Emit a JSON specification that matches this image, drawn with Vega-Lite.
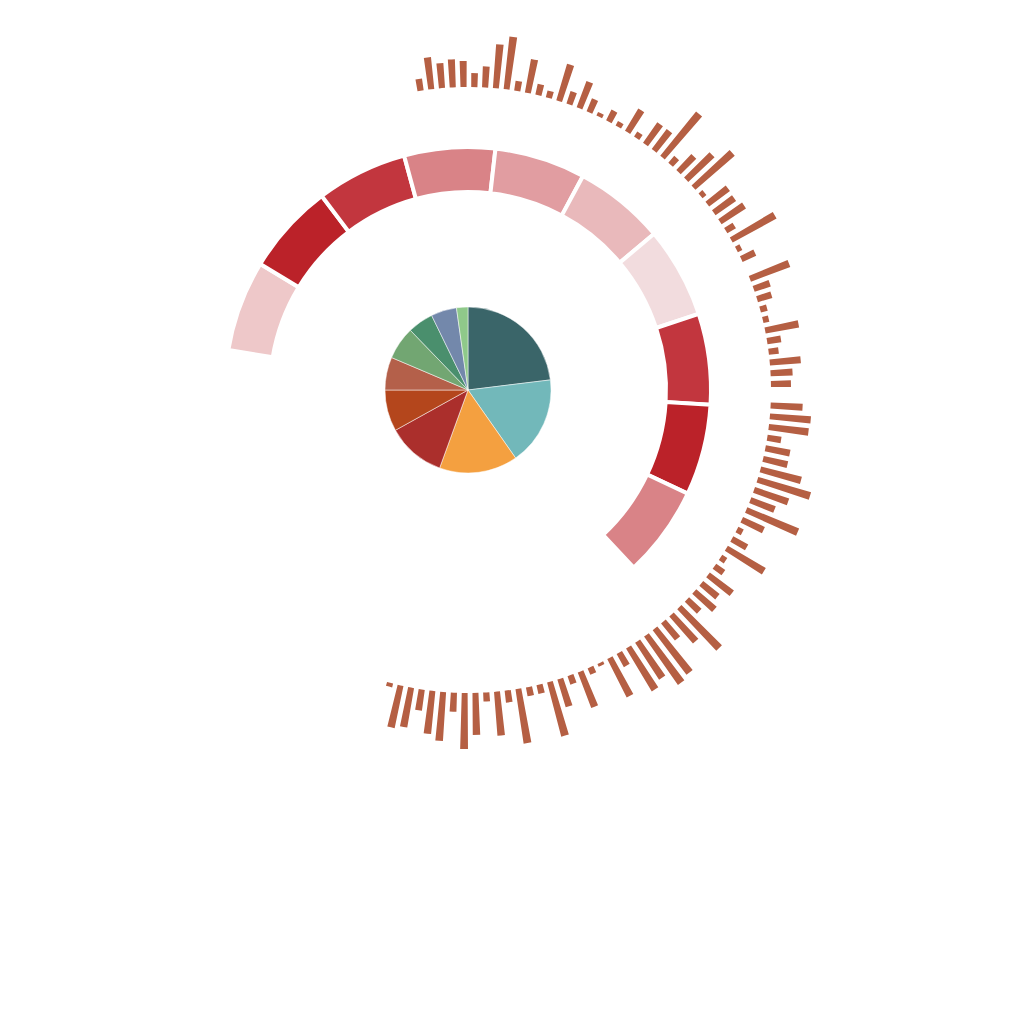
{
  "$schema": "https://vega.github.io/schema/vega-lite/v6.json",
  "width": 936,
  "height": 780,
  "autosize": {"type": "none"},
  "padding": 0,
  "background": "#ffffff",
  "view": {"stroke": null},
  "datasets": {
    "bars": [
      {"i":1,"v":12},{"i":2,"v":32},{"i":3,"v":25},{"i":4,"v":28},{"i":5,"v":26},{"i":6,"v":14},{"i":7,"v":21},{"i":8,"v":44},{"i":9,"v":53},{"i":10,"v":10},
      {"i":11,"v":34},{"i":12,"v":11},{"i":13,"v":7},{"i":14,"v":38},{"i":15,"v":13},{"i":16,"v":28},{"i":17,"v":14},{"i":18,"v":4},{"i":19,"v":12},{"i":20,"v":5},
      {"i":21,"v":26},{"i":22,"v":6},{"i":23,"v":25},{"i":24,"v":25},{"i":25,"v":57},{"i":26,"v":9},{"i":27,"v":22},{"i":28,"v":36},{"i":29,"v":52},{"i":30,"v":5},
      {"i":31,"v":26},{"i":32,"v":25},{"i":33,"v":29},{"i":34,"v":10},{"i":35,"v":50},{"i":36,"v":5},{"i":37,"v":15},{"i":38,"v":0},{"i":39,"v":42},{"i":40,"v":17},
      {"i":41,"v":15},{"i":42,"v":7},{"i":43,"v":6},{"i":44,"v":34},{"i":45,"v":14},{"i":46,"v":10},{"i":47,"v":31},{"i":48,"v":22},{"i":49,"v":20},{"i":50,"v":0},
      {"i":51,"v":32},{"i":52,"v":41},{"i":53,"v":40},{"i":54,"v":14},{"i":55,"v":25},{"i":56,"v":25},{"i":57,"v":42},{"i":58,"v":55},{"i":59,"v":36},{"i":60,"v":26},
      {"i":61,"v":56},{"i":62,"v":24},{"i":63,"v":6},{"i":64,"v":17},{"i":65,"v":44},{"i":66,"v":6},{"i":67,"v":11},{"i":68,"v":30},{"i":69,"v":21},{"i":70,"v":27},
      {"i":71,"v":17},{"i":72,"v":57},{"i":73,"v":36},{"i":74,"v":22},{"i":75,"v":56},{"i":76,"v":59},{"i":77,"v":44},{"i":78,"v":50},{"i":79,"v":15},{"i":80,"v":43},
      {"i":81,"v":3},{"i":82,"v":7},{"i":83,"v":38},{"i":84,"v":9},{"i":85,"v":29},{"i":86,"v":56},{"i":87,"v":9},{"i":88,"v":9},{"i":89,"v":55},{"i":90,"v":12},
      {"i":91,"v":44},{"i":92,"v":9},{"i":93,"v":42},{"i":94,"v":56},{"i":95,"v":19},{"i":96,"v":49},{"i":97,"v":43},{"i":98,"v":21},{"i":99,"v":40},{"i":100,"v":43},
      {"i":101,"v":4}
    ],
    "ring": [
      {"i":1,"v":3},{"i":2,"v":9},{"i":3,"v":8},{"i":4,"v":6},{"i":5,"v":5},
      {"i":6,"v":4},{"i":7,"v":2},{"i":8,"v":8},{"i":9,"v":9},{"i":10,"v":6}
    ],
    "pie": [
      {"i":1,"k":"A","v":83},{"i":2,"k":"B","v":62},{"i":3,"k":"C","v":55},{"i":4,"k":"D","v":41},{"i":5,"k":"E","v":29},
      {"i":6,"k":"F","v":23},{"i":7,"k":"G","v":23},{"i":8,"k":"H","v":18},{"i":9,"k":"I","v":18},{"i":10,"k":"J","v":8}
    ]
  },
  "layer": [
    {
      "data": {"name": "bars"},
      "transform": [
        {"aggregate": [{"op": "count", "as": "n"}], "groupby": ["i", "v"]},
        {"stack": "n", "groupby": [], "sort": [{"field": "i", "order": "ascending"}], "as": ["t0", "t1"]}
      ],
      "mark": {"type": "arc", "padAngle": 0.0105, "color": "#b55f43"},
      "encoding": {
        "theta": {"field": "t0", "type": "quantitative", "stack": null,
                  "scale": {"domain": [0, 101], "range": [-0.17488, 3.41945]}},
        "theta2": {"field": "t1"},
        "radius": {"field": "v", "type": "quantitative",
                   "scale": {"type": "linear", "domain": [0, 60], "range": [303, 363], "zero": false}},
        "radius2": {"value": 303}
      }
    },
    {
      "data": {"name": "ring"},
      "mark": {"type": "arc", "innerRadius": 198, "outerRadius": 243, "stroke": "#ffffff", "strokeWidth": 4},
      "encoding": {
        "theta": {"aggregate": "count", "type": "quantitative", "stack": true,
                  "scale": {"domain": [0, 10], "range": [-1.405, 2.391]}},
        "color": {"field": "v", "type": "ordinal",
                  "scale": {"domain": [2, 3, 4, 5, 6, 8, 9],
                            "range": ["#f2dcde", "#eec8c9", "#e9b9bb", "#e19da1", "#d98387", "#c2363e", "#bb2229"]},
                  "legend": null},
        "order": {"field": "i", "type": "quantitative"}
      }
    },
    {
      "data": {"name": "pie"},
      "mark": {"type": "arc", "outerRadius": 83, "stroke": "#ffffff", "strokeWidth": 0.5},
      "encoding": {
        "theta": {"field": "v", "type": "quantitative", "stack": true},
        "color": {"field": "k", "type": "nominal",
                  "scale": {"domain": ["A","B","C","D","E","F","G","H","I","J"],
                            "range": ["#3a6569", "#72b8ba", "#f4a040", "#ab2f2c", "#b4461c", "#b4604a", "#72a672", "#4a8f6d", "#7388ab", "#8fc98a"]},
                  "legend": null},
        "order": {"field": "i", "type": "quantitative"}
      }
    }
  ],
  "resolve": {"scale": {"theta": "independent", "radius": "independent", "color": "independent"}}
}
